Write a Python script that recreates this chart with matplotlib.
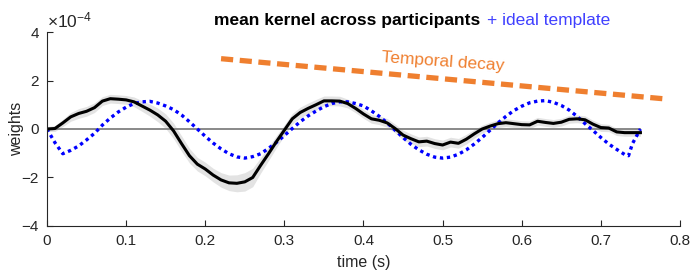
import matplotlib
matplotlib.use("Agg")
import matplotlib.pyplot as plt
import numpy as np

# mean kernel (weights in units of 1e-4), sampled every 10 ms
time = [0.00, 0.01, 0.02, 0.03, 0.04, 0.05, 0.06, 0.07, 0.08, 0.09,
        0.10, 0.11, 0.12, 0.13, 0.14, 0.15, 0.16, 0.17, 0.18, 0.19,
        0.20, 0.21, 0.22, 0.23, 0.24, 0.25, 0.26, 0.27, 0.28, 0.29,
        0.30, 0.31, 0.32, 0.33, 0.34, 0.35, 0.36, 0.37, 0.38, 0.39,
        0.40, 0.41, 0.42, 0.43, 0.44, 0.45, 0.46, 0.47, 0.48, 0.49,
        0.50, 0.51, 0.52, 0.53, 0.54, 0.55, 0.56, 0.57, 0.58, 0.59,
        0.60, 0.61, 0.62, 0.63, 0.64, 0.65, 0.66, 0.67, 0.68, 0.69,
        0.70, 0.71, 0.72, 0.73, 0.74, 0.75]
kernel_mean = [0.00, 0.02, 0.25, 0.50, 0.64, 0.73, 0.88, 1.15, 1.25, 1.23,
               1.20, 1.12, 0.95, 0.78, 0.58, 0.32, -0.08, -0.60, -1.10, -1.45,
               -1.65, -1.90, -2.10, -2.22, -2.24, -2.18, -2.00, -1.50, -1.02, -0.52,
               -0.05, 0.42, 0.68, 0.85, 1.00, 1.16, 1.16, 1.15, 1.05, 0.85,
               0.62, 0.42, 0.36, 0.25, 0.02, -0.25, -0.40, -0.53, -0.50, -0.60,
               -0.66, -0.54, -0.59, -0.42, -0.20, 0.00, 0.12, 0.22, 0.26, 0.22,
               0.18, 0.17, 0.32, 0.27, 0.23, 0.28, 0.40, 0.42, 0.38, 0.20,
               0.06, 0.04, -0.12, -0.15, -0.15, -0.15]
kernel_sem = [0.10, 0.12, 0.15, 0.18, 0.20, 0.20, 0.20, 0.18, 0.18, 0.18,
              0.18, 0.20, 0.22, 0.25, 0.28, 0.30, 0.32, 0.32, 0.30, 0.28,
              0.28, 0.28, 0.30, 0.32, 0.35, 0.38, 0.38, 0.32, 0.28, 0.25,
              0.22, 0.22, 0.22, 0.22, 0.22, 0.20, 0.20, 0.20, 0.18, 0.18,
              0.18, 0.18, 0.18, 0.18, 0.18, 0.20, 0.20, 0.20, 0.20, 0.20,
              0.20, 0.20, 0.20, 0.20, 0.18, 0.16, 0.16, 0.16, 0.16, 0.16,
              0.16, 0.16, 0.16, 0.16, 0.16, 0.16, 0.16, 0.16, 0.16, 0.16,
              0.16, 0.15, 0.15, 0.15, 0.15, 0.15]

# ideal template
template_t = [0.00, 0.01, 0.02, 0.03, 0.04, 0.05, 0.06, 0.07, 0.08, 0.09,
              0.10, 0.11, 0.12, 0.13, 0.14, 0.15, 0.16, 0.17, 0.18, 0.19,
              0.20, 0.21, 0.22, 0.23, 0.24, 0.25, 0.26, 0.27, 0.28, 0.29,
              0.30, 0.31, 0.32, 0.33, 0.34, 0.35, 0.36, 0.37, 0.38, 0.39,
              0.40, 0.41, 0.42, 0.43, 0.44, 0.45, 0.46, 0.47, 0.48, 0.49,
              0.50, 0.51, 0.52, 0.53, 0.54, 0.55, 0.56, 0.57, 0.58, 0.59,
              0.60, 0.61, 0.62, 0.63, 0.64, 0.65, 0.66, 0.67, 0.68, 0.69,
              0.70, 0.71, 0.72, 0.73, 0.735, 0.74, 0.75]
template = [0.00, -0.56, -1.02, -0.88, -0.70, -0.45, -0.18, 0.16, 0.45, 0.70,
            0.90, 1.05, 1.12, 1.14, 1.07, 0.95, 0.80, 0.58, 0.30, 0.00,
            -0.30, -0.58, -0.82, -1.02, -1.15, -1.20, -1.14, -1.02, -0.80, -0.55,
            -0.27, 0.02, 0.30, 0.54, 0.74, 0.92, 1.05, 1.12, 1.12, 1.05,
            0.95, 0.75, 0.52, 0.25, -0.05, -0.35, -0.63, -0.86, -1.04, -1.16,
            -1.20, -1.16, -1.04, -0.86, -0.62, -0.35, -0.05, 0.25, 0.52, 0.76,
            0.94, 1.08, 1.15, 1.17, 1.10, 0.97, 0.78, 0.52, 0.22, -0.06,
            -0.35, -0.62, -0.84, -1.05, -1.10, -0.60, 0.00]

# temporal decay line
decay_t = [0.22, 0.778]
decay_w = [2.9, 1.25]

plt.rcParams['font.family'] = ['Liberation Sans', 'DejaVu Sans']
plt.rcParams['mathtext.fontset'] = 'custom'
plt.rcParams['mathtext.rm'] = 'Liberation Sans'
plt.rcParams['mathtext.it'] = 'Liberation Sans'

axcol = '#262626'
orange = '#EF7F2F'

fig = plt.figure(figsize=(6.93, 2.74), dpi=100)
ax = fig.add_axes([0.0678, 0.1752, 0.9134, 0.708])

m = np.array(kernel_mean)
s = np.array(kernel_sem)
ax.fill_between(time, m - s, m + s, color='#e3e3e3', lw=0)
ax.plot([0, 0.75], [0, 0], color='#808080', lw=1.3)
ax.plot(template_t, template, color='blue', lw=2.4, dashes=(1.0, 1.1))
ax.plot(time, kernel_mean, color='black', lw=2.2)
ax.plot(decay_t, decay_w, color=orange, lw=3.8, dashes=(2.3, 1.25), dash_capstyle='butt')
ax.text(0.5, 2.78, 'Temporal decay', color=orange, fontsize=12.5, rotation=-4,
        ha='center', va='center')

ax.set_xlim(0, 0.8)
ax.set_ylim(-4, 4)
ax.set_xticks(np.arange(0, 0.81, 0.1))
ax.set_xticklabels(['0', '0.1', '0.2', '0.3', '0.4', '0.5', '0.6', '0.7', '0.8'])
ax.set_yticks([-4, -2, 0, 2, 4])
ax.tick_params(direction='in', length=4, width=0.8, colors=axcol, labelsize=11, pad=6)
for side in ['top', 'right']:
    ax.spines[side].set_visible(False)
for side in ['left', 'bottom']:
    ax.spines[side].set_color(axcol)
    ax.spines[side].set_linewidth(0.8)

ax.set_xlabel('time (s)', fontsize=11.5, color=axcol, labelpad=5)
ax.set_ylabel('weights', fontsize=11.5, color=axcol, labelpad=-2)
ax.text(0.0, 1.01, r'$\times10^{-4}$', transform=ax.transAxes, fontsize=12.5,
        color=axcol, ha='left', va='bottom')

fig.text(480 / 693, 1 - 21 / 274, 'mean kernel across participants', fontsize=12.5,
         fontweight='bold', color='black', ha='right', va='center')
fig.text(487 / 693, 1 - 21 / 274, '+ ideal template', fontsize=12.5,
         color='#4040ff', ha='left', va='center')

fig.savefig('out.png', dpi=100)
